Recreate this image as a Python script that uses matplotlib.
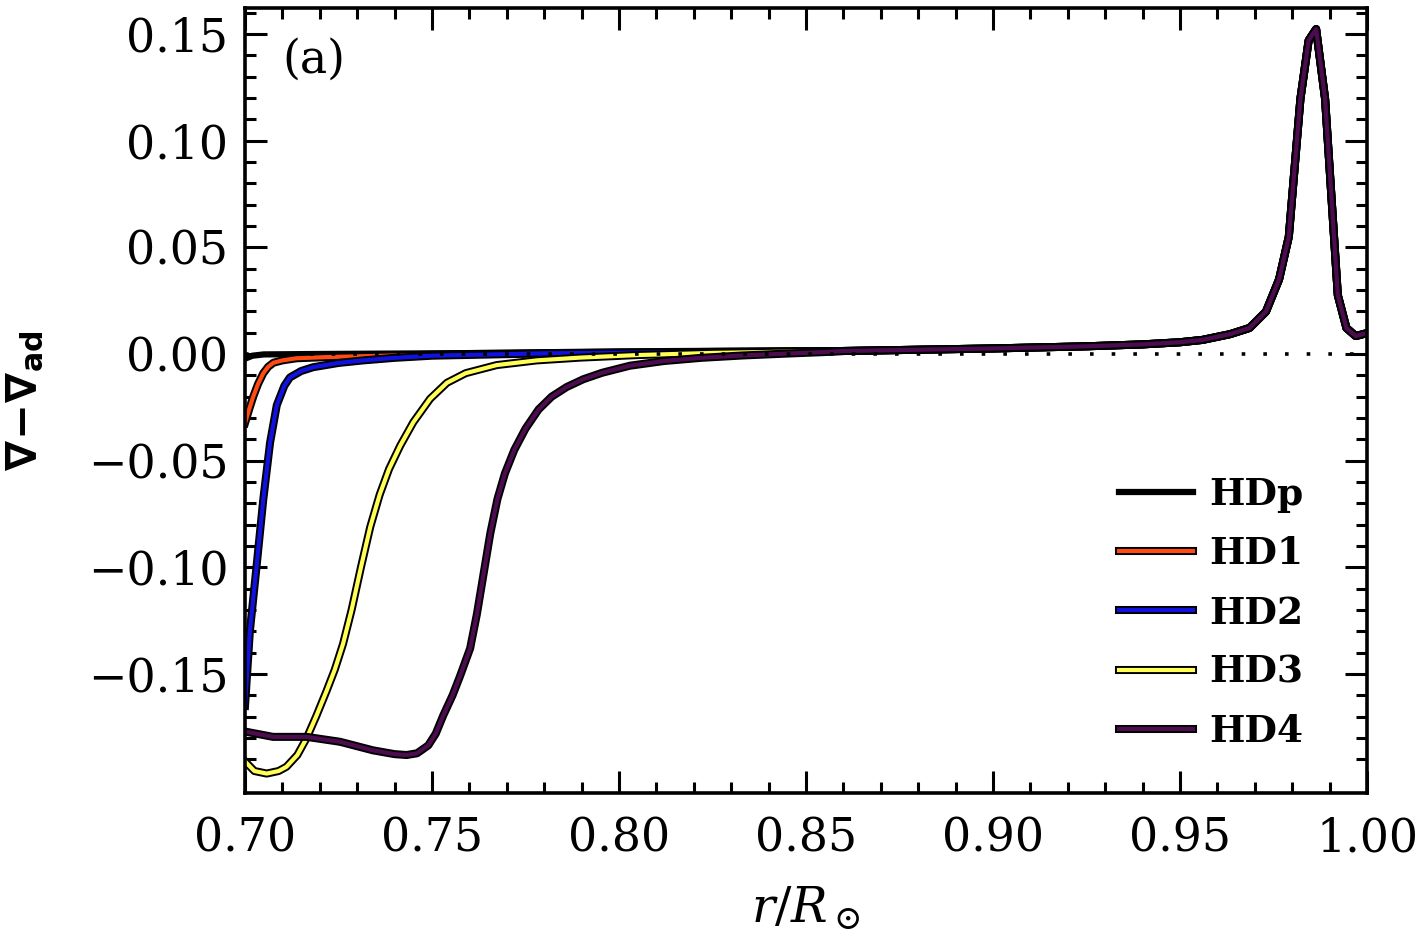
"""Superadiabatic gradient profiles for the HD models, panel (a)."""

import matplotlib

matplotlib.use("Agg")
import matplotlib.pyplot as plt
import matplotlib.patheffects as pe
from matplotlib.ticker import FixedLocator, FuncFormatter

# profile shared by all models once they have converged (outer layers)
TAIL_R = [0.860, 0.880, 0.900, 0.925, 0.940, 0.950, 0.956, 0.9634, 0.9686,
          0.9730, 0.9765, 0.9791, 0.9822, 0.9844, 0.9864, 0.9888, 0.9922,
          0.9945, 0.9970, 1.000]
TAIL_V = [0.0014, 0.0020, 0.0026, 0.0036, 0.0045, 0.0055, 0.0066, 0.0093,
          0.0122, 0.0199, 0.0350, 0.0550, 0.1196, 0.1470, 0.1523, 0.1196,
          0.0276, 0.0122, 0.0084, 0.0098]

# inner parts, different for each model
HDP_R = [0.700, 0.702, 0.705, 0.720, 0.760, 0.800, 0.840]
HDP_V = [-0.0022, -0.0008, -0.0002, 0.0000, 0.0004, 0.0008, 0.0012]

HD1_R = [0.700, 0.7011, 0.7022, 0.7035, 0.7049, 0.7062, 0.7076, 0.7100,
         0.7138, 0.7227, 0.740, 0.760, 0.800, 0.840]
HD1_V = [-0.0324, -0.0260, -0.0200, -0.0140, -0.0090, -0.0060, -0.0041,
         -0.0030, -0.0020, -0.0014, -0.0007, 0.0000, 0.0008, 0.0012]

HD2_R = [0.700, 0.7013, 0.7031, 0.7049, 0.7067, 0.7085, 0.7105, 0.7120,
         0.7150, 0.7182, 0.7250, 0.7316, 0.7400, 0.7500, 0.7800, 0.8200,
         0.8400]
HD2_V = [-0.165, -0.130, -0.0994, -0.068, -0.0416, -0.0240, -0.0150,
         -0.0110, -0.0080, -0.0062, -0.0042, -0.0030, -0.0018, -0.0008,
         0.0003, 0.0009, 0.0012]

HD3_R = [0.700, 0.7025, 0.7058, 0.7090, 0.7111, 0.7140, 0.7165, 0.7190,
         0.7218, 0.7240, 0.7262, 0.7285, 0.7310, 0.7335, 0.7360, 0.7385,
         0.7415, 0.7450, 0.7495, 0.7540, 0.7590, 0.7673, 0.7780, 0.7896,
         0.8050, 0.8250, 0.8450]
HD3_V = [-0.191, -0.1955, -0.1967, -0.1955, -0.1935, -0.1880, -0.1800,
         -0.1700, -0.1580, -0.1480, -0.1360, -0.1200, -0.1000, -0.0810,
         -0.0660, -0.0540, -0.0430, -0.0320, -0.0210, -0.0135, -0.0090,
         -0.0052, -0.0030, -0.0017, -0.0005, 0.0005, 0.0011]

HD4_R = [0.700, 0.7075, 0.7165, 0.7254, 0.7342, 0.7400, 0.7432, 0.7460,
         0.7490, 0.7510, 0.7530, 0.7555, 0.7575, 0.7602, 0.7620, 0.7638,
         0.7656, 0.7675, 0.7695, 0.7720, 0.7750, 0.7785, 0.7820, 0.7860,
         0.7905, 0.7955, 0.8029, 0.8120, 0.8220, 0.8330, 0.8450, 0.8550]
HD4_V = [-0.177, -0.1795, -0.1795, -0.1818, -0.1858, -0.1876, -0.1880,
         -0.1872, -0.1835, -0.1780, -0.1695, -0.1600, -0.1510, -0.1380,
         -0.1220, -0.1030, -0.0840, -0.0680, -0.0560, -0.0450, -0.0350,
         -0.0260, -0.0200, -0.0155, -0.0118, -0.0088, -0.0055, -0.0033,
         -0.0018, -0.0007, 0.0002, 0.0009]

MODEL_LABELS = ["HDp", "HD1", "HD2", "HD3", "HD4"]
MODEL_COLORS = ["black", "#ff4a12", "#1212e0", "#ffff55", "#4e0c50"]

X_MAJOR = [0.70, 0.75, 0.80, 0.85, 0.90, 0.95, 1.00]
Y_MAJOR = [-0.15, -0.10, -0.05, 0.00, 0.05, 0.10, 0.15]

SERIF = "DejaVu Serif"


def fmt(v, _pos):
    return f"{v:.2f}".replace("-", "\u2212")


def main() -> None:
    plt.rcParams["mathtext.fontset"] = "dejavuserif"

    fig = plt.figure(figsize=(14.17, 9.42), dpi=100)
    ax = fig.add_axes([0.1729, 0.1582, 0.7918, 0.8333])

    heads = [(HDP_R, HDP_V), (HD1_R, HD1_V), (HD2_R, HD2_V),
             (HD3_R, HD3_V), (HD4_R, HD4_V)]
    handles = []
    for (rr, vv), label, color in zip(heads, MODEL_LABELS, MODEL_COLORS):
        r = list(rr) + TAIL_R
        v = list(vv) + TAIL_V
        if color == "black":
            (line,) = ax.plot(r, v, color="black", lw=4.5, label=label,
                              solid_joinstyle="round")
        else:
            (line,) = ax.plot(
                r, v, color=color, lw=3.0, label=label,
                solid_joinstyle="round",
                path_effects=[pe.Stroke(linewidth=5.8, foreground="black"),
                              pe.Normal()],
            )
        handles.append(line)

    ax.axhline(0.0, color="black", lw=2.6, linestyle=(0, (1, 5)), zorder=5)

    ax.set_xlim(0.70, 1.00)
    ax.set_ylim(-0.2058, 0.1622)
    ax.xaxis.set_major_locator(FixedLocator(X_MAJOR))
    ax.xaxis.set_minor_locator(FixedLocator([0.70 + 0.01 * i for i in range(31)]))
    ax.yaxis.set_major_locator(FixedLocator(Y_MAJOR))
    ax.yaxis.set_minor_locator(FixedLocator([-0.19 + 0.01 * i for i in range(36)]))
    ax.xaxis.set_major_formatter(FuncFormatter(fmt))
    ax.yaxis.set_major_formatter(FuncFormatter(fmt))
    ax.tick_params(which="both", direction="in", top=True, right=True,
                   width=2.2, colors="black")
    ax.tick_params(which="major", length=15.5, labelsize=33)
    ax.tick_params(axis="y", which="major", pad=12)
    ax.tick_params(axis="x", which="major", pad=17)
    ax.tick_params(which="minor", length=8)
    for lab in ax.get_xticklabels() + ax.get_yticklabels():
        lab.set_family(SERIF)
    for spine in ax.spines.values():
        spine.set_linewidth(2.6)

    ax.set_xlabel(r"$r/R_\odot$", fontsize=35, labelpad=16)
    ax.set_ylabel(r"$\mathbf{\nabla\!-\!\nabla_{ad}}$", fontsize=31,
                  labelpad=30, math_fontfamily="dejavusans")
    ax.text(0.033, 0.962, "(a)", transform=ax.transAxes, fontsize=33,
            family=SERIF, va="top", ha="left")

    ax.legend(handles=handles, loc="lower right", bbox_to_anchor=(0.982, 0.0),
              frameon=False,
              prop={"family": SERIF, "size": 27, "weight": "bold"},
              handlelength=1.95, handletextpad=0.45, labelspacing=0.59,
              borderaxespad=0.75)

    fig.savefig("out.png", dpi=100)
    plt.close(fig)


if __name__ == "__main__":
    main()
